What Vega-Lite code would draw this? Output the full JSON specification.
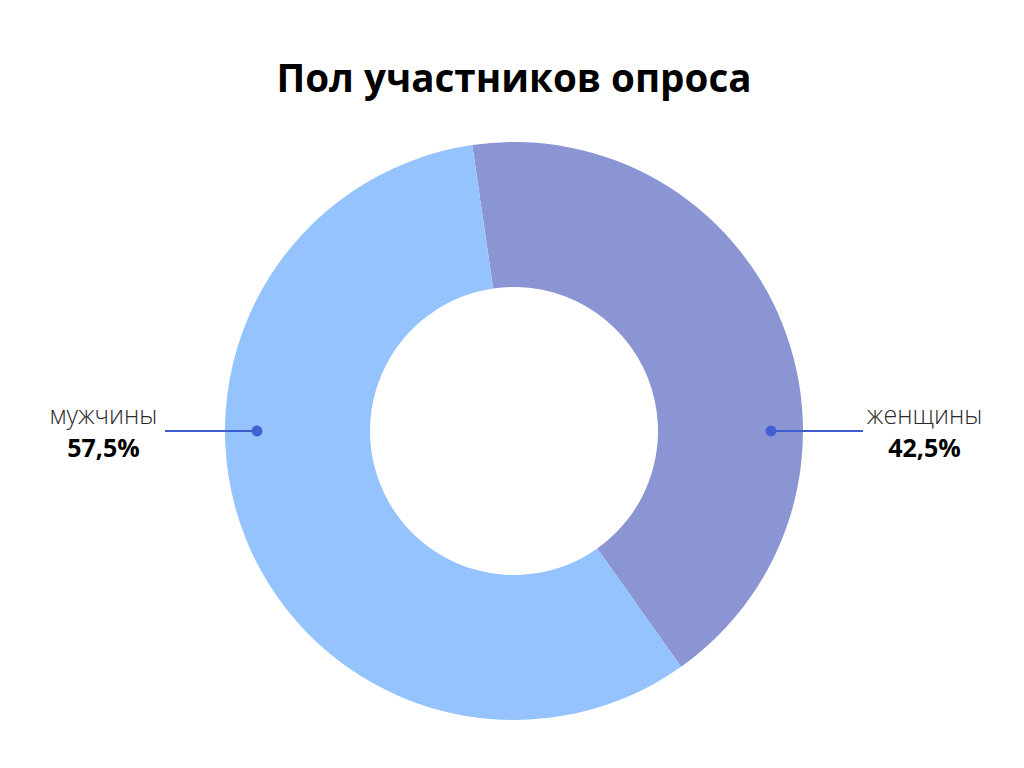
{
  "$schema": "https://vega.github.io/schema/vega-lite/v6.json",
  "autosize": "none",
  "width": 1028,
  "height": 674,
  "padding": {"left": 0, "top": 94, "right": 0, "bottom": 0},
  "background": "white",
  "title": {
    "text": "Пол участников опроса",
    "font": "Open Sans",
    "fontSize": 38.6,
    "fontWeight": "bold",
    "color": "#000000",
    "anchor": "middle",
    "frame": "group",
    "baseline": "alphabetic",
    "offset": -37
  },
  "config": {"view": {"stroke": null}},
  "data": {
    "values": [
      {"category": "женщины", "value": 42.5, "label": "42,5%"},
      {"category": "мужчины", "value": 57.5, "label": "57,5%"}
    ]
  },
  "resolve": {"scale": {"x": "independent", "theta": "independent"}},
  "layer": [
    {
      "mark": {"type": "arc", "innerRadius": 144, "outerRadius": 289},
      "encoding": {
        "theta": {"field": "value", "type": "quantitative", "stack": true, "scale": {"range": [-0.145, 6.138]}},
        "color": {
          "field": "category", "type": "nominal",
          "scale": {"domain": ["женщины", "мужчины"], "range": ["#8C95D3", "#94C3FD"]},
          "legend": null
        },
        "order": {"field": "category", "sort": "ascending"}
      }
    },
    {
      "mark": {"type": "point", "filled": false, "strokeWidth": 2, "color": "#3F5BD0", "size": 8464, "opacity": 1},
      "encoding": {
        "x": {"field": "category", "type": "nominal", "axis": null, "scale": {"type": "point", "domain": ["мужчины", "женщины"], "padding": 0.5}},
        "shape": {
          "field": "category", "type": "nominal",
          "scale": {"domain": ["мужчины", "женщины"], "range": ["M0,0H-2", "M0,0H2"]},
          "legend": null
        }
      }
    },
    {
      "mark": {"type": "circle", "size": 120, "color": "#4160D2", "opacity": 1},
      "encoding": {
        "x": {"field": "category", "type": "nominal", "axis": null, "scale": {"type": "point", "domain": ["мужчины", "женщины"], "padding": 0.5}}
      }
    },
    {
      "mark": {"type": "text", "font": "Open Sans", "fontSize": 25, "fontWeight": 300, "color": "#2b2b2b", "baseline": "alphabetic", "dy": -7},
      "encoding": {
        "x": {"field": "category", "type": "nominal", "axis": null, "scale": {"type": "point", "domain": ["мужчины", "женщины"], "padding": 0.126}},
        "text": {"field": "category"}
      }
    },
    {
      "mark": {"type": "text", "font": "Open Sans", "fontSize": 25, "fontWeight": "bold", "color": "#000000", "baseline": "alphabetic", "dy": 26},
      "encoding": {
        "x": {"field": "category", "type": "nominal", "axis": null, "scale": {"type": "point", "domain": ["мужчины", "женщины"], "padding": 0.126}},
        "text": {"field": "label"}
      }
    }
  ]
}
